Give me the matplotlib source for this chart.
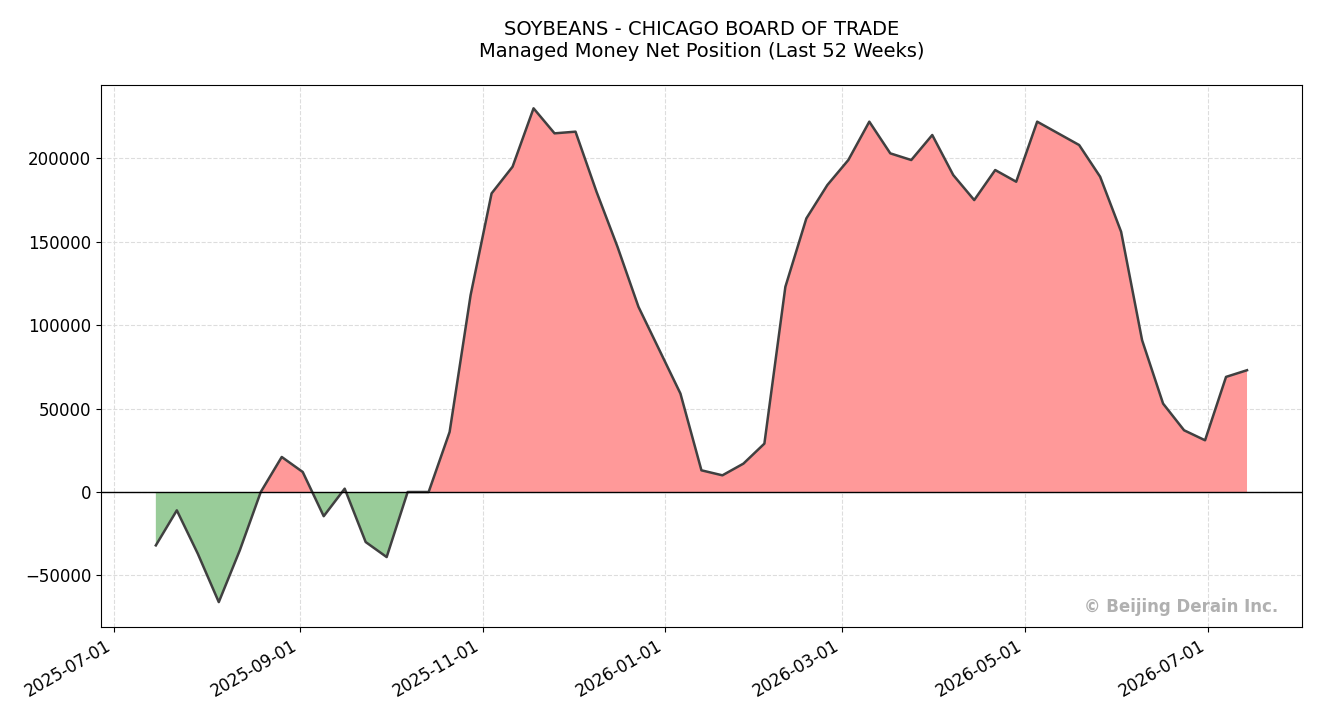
import matplotlib
matplotlib.use("Agg")
import matplotlib.pyplot as plt
import matplotlib.dates as mdates
import pandas as pd
import numpy as np

dates = pd.date_range("2025-07-15", periods=53, freq="7D")
net = [-32000, -11000, -37000, -66000, -35000, 0, 21000, 12000, -14500, 2000,
       -30000, -39000, 0, 0, 36000, 118000, 179000, 195000, 230000, 215000,
       216000, 180000, 147000, 111000, 85000, 59000, 13000, 10000, 17000, 29000,
       123000, 164000, 184000, 199000, 222000, 203000, 199000, 214000, 190000, 175000,
       193000, 186000, 222000, 215000, 208000, 189000, 156000, 91000, 53000, 37000,
       31000, 69000, 73000]
title = "SOYBEANS - CHICAGO BOARD OF TRADE\nManaged Money Net Position (Last 52 Weeks)"

y = np.array(net, dtype=float)
x = mdates.date2num(dates)
fig = plt.figure(figsize=(13.2, 7.2), dpi=100)
ax = fig.add_axes([0.0765, 0.129, 0.91, 0.753])
ax.fill_between(x, y, 0, where=y >= 0, interpolate=True, color="#ff9999", lw=0)
ax.fill_between(x, y, 0, where=y <= 0, interpolate=True, color="#99cc99", lw=0)
ax.plot(x, y, color="#404040", lw=1.8)
ax.axhline(0, color="black", lw=1)
ax.xaxis_date()
ax.xaxis.set_major_locator(mdates.MonthLocator(bymonth=[1, 3, 5, 7, 9, 11]))
ax.xaxis.set_major_formatter(mdates.DateFormatter("%Y-%m-%d"))
x0 = mdates.datestr2num("2025-07-01") - 4.3
ax.set_xlim(x0, x0 + 400.7)
ax.set_ylim(-81000, 244000)
ax.grid(True, ls="--", color="#dddddd", lw=0.8)
ax.set_axisbelow(True)
ax.tick_params(labelsize=12)
for lbl in ax.get_xticklabels():
    lbl.set_rotation(30); lbl.set_ha("right")
ax.set_title(title, fontsize=14, pad=20)
ax.text(0.98, 0.02, "© Beijing Derain Inc.", transform=ax.transAxes, ha="right",
        va="bottom", color="#b0b0b0", fontsize=12, fontweight="bold")
fig.savefig("out.png")
